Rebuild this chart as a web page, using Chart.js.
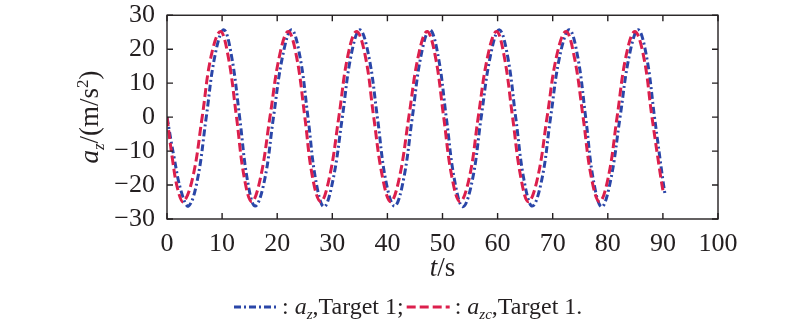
<!DOCTYPE html>
<html>
<head>
<meta charset="utf-8">
<script src="https://cdn.jsdelivr.net/npm/chart.js@4/dist/chart.umd.min.js"></script>
<style>
  html, body { margin: 0; padding: 0; background: #ffffff; }
  #wrap { width: 800px; height: 328px; }
</style>
</head>
<body>
<div id="wrap"><canvas id="c" width="800" height="328"></canvas></div>
<script>
// Vertical acceleration of target 1: measured a_z and commanded a_zc (m/s^2) against time t (s)
const tAz = [0, 1.3, 2.6, 3.9,
  5.5, 7.1, 8.7, 10.3,
  11.7, 13.2, 14.6, 16.0,
  17.7, 19.3, 21.0, 22.6,
  24.1, 25.6, 27.0, 28.5,
  30.1, 31.8, 33.4, 35.0,
  36.6, 38.2, 39.7, 41.3,
  42.9, 44.5, 46.1, 47.7,
  49.2, 50.7, 52.2, 53.7,
  55.4, 57.0, 58.7, 60.3,
  61.8, 63.3, 64.8, 66.3,
  68.0, 69.6, 71.3, 73.0,
  74.5, 76.0, 77.4, 78.9,
  80.5, 82.2, 83.9, 85.5,
  87.0, 88.5, 90.0, 90.4];
const az = [0, -12.0, -22.0, -26.2,
  -18.6, -0.3, 18.1, 25.7,
  18.1, -0.3, -18.6, -26.2,
  -18.6, -0.3, 18.1, 25.7,
  18.1, -0.3, -18.6, -26.4,
  -18.7, -0.3, 18.1, 25.7,
  18.1, -0.3, -18.6, -26.2,
  -18.6, -0.3, 18.1, 25.7,
  18.1, -0.3, -18.7, -26.4,
  -18.7, -0.3, 18.1, 25.7,
  18.1, -0.3, -18.6, -26.2,
  -18.6, -0.3, 18.1, 25.7,
  18.1, -0.3, -18.7, -26.4,
  -18.7, -0.3, 18.1, 25.7,
  18.1, -0.3, -18.6, -22.9];

const tAzc = [0, 1.0, 2.0, 3.0,
  4.7, 6.4, 8.0, 9.7,
  11.1, 12.6, 14.0, 15.4,
  17.0, 18.7, 20.4, 22.0,
  23.5, 25.0, 26.4, 27.9,
  29.5, 31.2, 32.8, 34.4,
  36.0, 37.5, 39.1, 40.6,
  42.2, 43.9, 45.6, 47.2,
  48.7, 50.2, 51.7, 53.2,
  54.9, 56.5, 58.2, 59.8,
  61.2, 62.7, 64.2, 65.6,
  67.3, 69.0, 70.7, 72.4,
  73.9, 75.5, 77.0, 78.5,
  80.1, 81.7, 83.3, 84.9,
  86.5, 88.0, 89.6, 90.1];
const azc = [0, -12.5, -21.6, -24.9,
  -17.6, 0.2, 17.9, 25.2,
  17.9, 0.2, -17.6, -24.9,
  -17.6, 0.2, 17.9, 25.2,
  17.9, 0.2, -17.6, -24.9,
  -17.6, 0.2, 17.9, 25.2,
  17.9, 0.2, -17.6, -24.9,
  -17.6, 0.2, 17.9, 25.2,
  17.9, 0.2, -17.6, -24.9,
  -17.6, 0.2, 17.9, 25.2,
  17.9, 0.2, -17.6, -24.9,
  -17.6, 0.2, 17.9, 25.2,
  17.9, 0.2, -17.6, -24.9,
  -17.6, 0.2, 17.9, 25.2,
  17.9, 0.2, -17.6, -22.5];

const xTicks = [0, 10, 20, 30, 40, 50, 60, 70, 80, 90, 100];
const yTicks = [-30, -20, -10, 0, 10, 20, 30];

const BLUE = '#2a46a8';
const RED = '#dc1f4c';
const INK = '#231f20';
const SERIF = '"Liberation Serif", "Times New Roman", Times, serif';
const FS_TICK = 26;
const FS_TITLE = 27;
const FS_LEG = 24;
const LW = 3;
const DASH_AZ = [7, 3, 2, 3];
const DASH_AZC = [9, 4];

const toPts = (xs, ys) => xs.map((x, i) => ({ x: x, y: ys[i] }));

// text pieces: [text, italic, sizeScale, baselineShift]
function runWidth(ctx, parts, fs) {
  let w = 0;
  for (const p of parts) {
    ctx.font = (p[1] ? 'italic ' : '') + Math.round(fs * p[2]) + 'px ' + SERIF;
    w += ctx.measureText(p[0]).width;
  }
  return w;
}
function drawRun(ctx, parts, x, y, fs) {
  for (const p of parts) {
    ctx.font = (p[1] ? 'italic ' : '') + Math.round(fs * p[2]) + 'px ' + SERIF;
    ctx.fillText(p[0], x, y + p[3]);
    x += ctx.measureText(p[0]).width;
  }
  return x;
}

const frame = {
  id: 'frame',
  afterDraw(chart) {
    const ctx = chart.ctx;
    const a = chart.chartArea;
    const xs = chart.scales.x, ys = chart.scales.y;
    ctx.save();
    ctx.strokeStyle = INK;
    ctx.lineWidth = 1.4;
    ctx.setLineDash([]);
    ctx.strokeRect(a.left, a.top, a.right - a.left, a.bottom - a.top);
    const TL = 6;
    ctx.beginPath();
    xTicks.forEach(v => {
      const px = xs.getPixelForValue(v);
      ctx.moveTo(px, a.bottom); ctx.lineTo(px, a.bottom - TL);
      ctx.moveTo(px, a.top); ctx.lineTo(px, a.top + TL);
    });
    yTicks.forEach(v => {
      const py = ys.getPixelForValue(v);
      ctx.moveTo(a.left, py); ctx.lineTo(a.left + TL, py);
      ctx.moveTo(a.right, py); ctx.lineTo(a.right - TL, py);
    });
    ctx.stroke();

    ctx.fillStyle = INK;
    ctx.textBaseline = 'alphabetic';
    ctx.textAlign = 'left';

    // x axis title: t/s
    const xt = [['t', true, 1, 0], ['/s', false, 1, 0]];
    const cx = (a.left + a.right) / 2;
    drawRun(ctx, xt, cx - runWidth(ctx, xt, FS_TITLE) / 2, 276, FS_TITLE);

    // y axis title: a_z/(m/s^2), rotated
    const yt = [['a', true, 1, 0], ['z', true, 0.62, 6], ['/(m/s', false, 1, 0], ['2', false, 0.62, -10], [')', false, 1, 0]];
    ctx.save();
    ctx.translate(98, 117);
    ctx.rotate(-Math.PI / 2);
    drawRun(ctx, yt, -runWidth(ctx, yt, FS_TITLE) / 2, 0, FS_TITLE);
    ctx.restore();

    // legend row
    const ly = 314;
    let x = 234;
    const sample = (color, dash) => {
      ctx.save();
      ctx.strokeStyle = color;
      ctx.lineWidth = LW;
      ctx.setLineDash(dash);
      ctx.beginPath();
      ctx.moveTo(x, ly - 7); ctx.lineTo(x + 43, ly - 7);
      ctx.stroke();
      ctx.restore();
      x += 48;
    };
    sample(BLUE, DASH_AZ);
    x = drawRun(ctx, [[': ', false, 1, 0], ['a', true, 1, 0], ['z', true, 0.62, 5], [',Target 1;', false, 1, 0]], x, ly, FS_LEG);
    x += 3;
    sample(RED, DASH_AZC);
    drawRun(ctx, [[': ', false, 1, 0], ['a', true, 1, 0], ['zc', true, 0.62, 5], [',Target 1.', false, 1, 0]], x, ly, FS_LEG);
    ctx.restore();
  }
};

new Chart(document.getElementById('c'), {
  type: 'line',
  data: {
    datasets: [
      {
        label: 'a_zc, Target 1',
        data: toPts(tAzc, azc),
        borderColor: RED,
        borderWidth: LW,
        borderDash: DASH_AZC,
        pointRadius: 0,
        tension: 0.4,
        fill: false
      },
      {
        label: 'a_z, Target 1',
        data: toPts(tAz, az),
        borderColor: BLUE,
        borderWidth: LW,
        borderDash: DASH_AZ,
        pointRadius: 0,
        tension: 0.4,
        fill: false
      }
    ]
  },
  options: {
    responsive: false,
    animation: false,
    devicePixelRatio: 1,
    layout: { padding: { top: 0, right: 82, left: 0, bottom: 0 } },
    plugins: { legend: { display: false }, tooltip: { enabled: false } },
    scales: {
      x: {
        type: 'linear',
        min: 0, max: 100,
        afterBuildTicks: s => { s.ticks = xTicks.map(v => ({ value: v })); },
        afterFit: s => { s.height = 109; },
        grid: { display: false, drawTicks: false },
        border: { display: false },
        ticks: { color: INK, padding: 10, maxRotation: 0, autoSkip: false, font: { family: SERIF, size: FS_TICK } }
      },
      y: {
        type: 'linear',
        min: -30, max: 30,
        afterBuildTicks: s => { s.ticks = yTicks.map(v => ({ value: v })); },
        afterFit: s => { s.width = 167; },
        grid: { display: false, drawTicks: false },
        border: { display: false },
        ticks: {
          color: INK, padding: 12, autoSkip: false,
          font: { family: SERIF, size: FS_TICK, lineHeight: 0.25 },
          callback: v => (v < 0 ? '\u2212' + Math.abs(v) : String(v))
        }
      }
    }
  },
  plugins: [frame]
});
</script>
</body>
</html>
